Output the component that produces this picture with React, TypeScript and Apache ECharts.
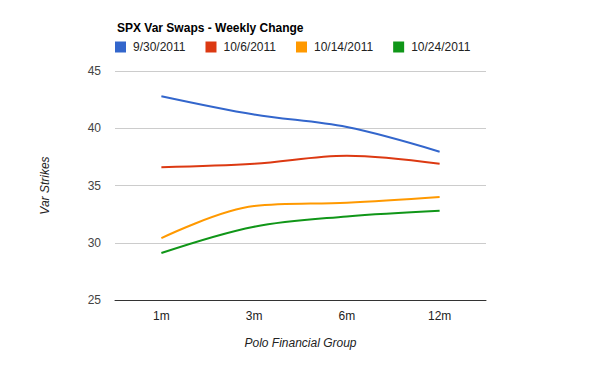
import React, { useEffect, useRef } from "react";
import * as echarts from "echarts";

const categories = ["1m", "3m", "6m", "12m"];
const seriesNames = ["9/30/2011", "10/6/2011", "10/14/2011", "10/24/2011"];
const s1 = [42.8, 41.2, 40.1, 37.95];
const s2 = [36.6, 36.9, 37.6, 36.9];
const s3 = [30.4, 33.2, 33.5, 34.0];
const s4 = [29.1, 31.4, 32.3, 32.8];
const colors = ["#3366cc", "#dc3912", "#ff9900", "#109618"];
const yTicks = [25, 30, 35, 40, 45];

export default function App() {
  const ref = useRef<HTMLDivElement>(null);
  useEffect(() => {
    const chart = echarts.init(ref.current!, null, { renderer: "svg" });
    const data = [s1, s2, s3, s4];
    chart.setOption({
      animation: false,
      textStyle: { fontFamily: "'Liberation Sans', Arial, sans-serif" },
      title: {
        text: "SPX Var Swaps - Weekly Change",
        left: 112,
        top: 17,
        textStyle: { fontSize: 12, fontWeight: "bold", color: "#000", fontFamily: "'Liberation Sans', Arial, sans-serif" },
      },
      legend: {
        left: 110,
        top: 36,
        icon: "rect",
        itemWidth: 11,
        itemHeight: 11,
        itemGap: 20,
        textStyle: { fontSize: 12, color: "#222", padding: [0, 0, 0, 2], fontFamily: "'Liberation Sans', Arial, sans-serif" },
        data: seriesNames,
      },
      grid: { left: 115, right: 114, top: 71, bottom: 71, containLabel: false },
      xAxis: {
        type: "category",
        data: categories,
        boundaryGap: true,
        name: "Polo Financial Group",
        nameLocation: "middle",
        nameGap: 37,
        nameTextStyle: { fontStyle: "italic", fontSize: 12, color: "#222" },
        axisLine: { show: true, lineStyle: { color: "#333", width: 1 } },
        axisTick: { show: false },
        axisLabel: { fontSize: 12, color: "#222", margin: 10 },
      },
      yAxis: {
        type: "value",
        min: yTicks[0],
        max: yTicks[yTicks.length - 1],
        interval: 5,
        name: "Var Strikes",
        nameLocation: "middle",
        nameGap: 64,
        nameRotate: 90,
        nameTextStyle: { fontStyle: "italic", fontSize: 12, color: "#222" },
        axisLine: { show: false },
        axisTick: { show: false },
        axisLabel: { fontSize: 12, color: "#444", margin: 14 },
        splitLine: { lineStyle: { color: "#cccccc", width: 1 } },
      },
      series: seriesNames.map((n, i) => ({
        name: n,
        type: "line",
        data: data[i],
        smooth: 0.35,
        showSymbol: false,
        symbol: "none",
        lineStyle: { color: colors[i], width: 2 },
        itemStyle: { color: colors[i] },
      })),
    });
    return () => chart.dispose();
  }, []);
  return <div ref={ref} style={{ width: 600, height: 371, position: "absolute", left: 0, top: 0 }} />;
}
